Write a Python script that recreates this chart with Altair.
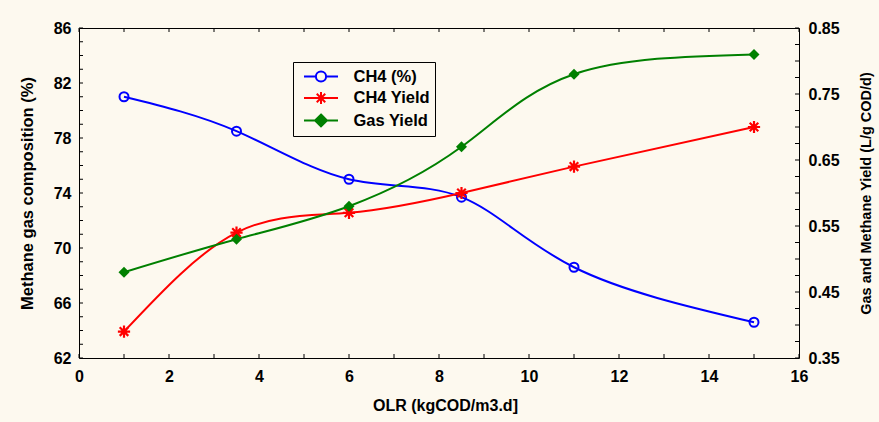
import altair as alt
import pandas as pd

# ---- data ----
olr = [1, 3.5, 6, 8.5, 11, 15]
ch4_pct = [81.0, 78.5, 75.0, 73.7, 68.6, 64.6]
ch4_yield = [0.39, 0.54, 0.57, 0.60, 0.64, 0.70]
gas_yield = [0.48, 0.53, 0.58, 0.67, 0.78, 0.81]

series = ["CH4 (%)", "CH4 Yield", "Gas Yield"]
colors = ["#0000FF", "#FF0000", "#008000"]

x_labels = [0, 2, 4, 6, 8, 10, 12, 14, 16]
x_minor = list(range(0, 17))
left_labels = [62, 66, 70, 74, 78, 82, 86]
left_minor = list(range(62, 87))
right_labels = [0.35, 0.45, 0.55, 0.65, 0.75, 0.85]
right_minor = [0.35, 0.375, 0.4, 0.425, 0.45, 0.475, 0.5, 0.525, 0.55, 0.575, 0.6,
               0.625, 0.65, 0.675, 0.7, 0.725, 0.75, 0.775, 0.8, 0.825, 0.85]

FONT = "Liberation Sans"
CREAM = "#FDF9EF"
W, H = 720, 330
TICK = 4

df_pct = pd.DataFrame({"olr": olr, "v": ch4_pct})
df_cy = pd.DataFrame({"olr": olr, "v": ch4_yield})
df_gy = pd.DataFrame({"olr": olr, "v": gas_yield})

xs = alt.Scale(domain=[0, 16], nice=False, zero=False)
yl = alt.Scale(domain=[62, 86], nice=False, zero=False)
yr = alt.Scale(domain=[0.35, 0.85], nice=False, zero=False)

lab = dict(labelFont=FONT, labelFontSize=16, labelFontWeight="bold", labelColor="black")
tit = dict(titleFont=FONT, titleFontWeight="bold", titleColor="black")

x_main = alt.Axis(orient="bottom", values=x_labels, ticks=False, domain=False, grid=False,
                  labelPadding=10, labelFlush=False, format="d",
                  title="OLR (kgCOD/m3.d]", titleFontSize=16, titleX=366, titleY=47,
                  titleBaseline="middle", titleAlign="center", **lab, **tit)
left_main = alt.Axis(orient="left", values=left_labels, ticks=False, domain=False, grid=False,
                     labelPadding=8, format="d",
                     title="Methane gas composition (%)", titleFontSize=16.5, titleAngle=270,
                     titleX=-52, titleY=165, titleBaseline="middle", titleAlign="center",
                     **lab, **tit)
right_main = alt.Axis(orient="right", values=right_labels, ticks=False, domain=False, grid=False,
                      labelPadding=9, format=".2f",
                      title="Gas and Methane Yield (L/g COD/d)", titleFontSize=14.5,
                      titleAngle=270, titleX=67, titleY=165, titleBaseline="middle",
                      titleAlign="center", **lab, **tit)

ASTER = "M-1,0L1,0M0,-1L0,1M-0.7,-0.7L0.7,0.7M-0.7,0.7L0.7,-0.7"

# inward tick marks (drawn through the scales)
df_xt = pd.DataFrame({"t": x_minor})
df_lt = pd.DataFrame({"t": left_minor})
df_rt = pd.DataFrame({"t": right_minor})
tick_style = dict(color="black", strokeWidth=1, opacity=1)
ticks_bottom = alt.Chart(df_xt).mark_rule(**tick_style).encode(
    x=alt.X("t:Q", scale=xs, axis=x_main), y=alt.value(H), y2=alt.value(H - TICK))
ticks_top = alt.Chart(df_xt).mark_rule(**tick_style).encode(
    x=alt.X("t:Q", scale=xs, axis=None), y=alt.value(0), y2=alt.value(TICK))
ticks_left = alt.Chart(df_lt).mark_rule(**tick_style).encode(
    y=alt.Y("t:Q", scale=yl, axis=left_main), x=alt.value(0), x2=alt.value(TICK))
ticks_right = alt.Chart(df_rt).mark_rule(**tick_style).encode(
    y=alt.Y("t:Q", scale=yr, axis=right_main), x=alt.value(W - TICK), x2=alt.value(W))

line_pct = alt.Chart(df_pct).mark_line(color=colors[0], strokeWidth=2, interpolate="natural").encode(
    x=alt.X("olr:Q", scale=xs, axis=None), y=alt.Y("v:Q", scale=yl, axis=None))
pts_pct = alt.Chart(df_pct).mark_point(shape="circle", size=81, strokeWidth=2, color=colors[0],
                                       filled=False, opacity=1).encode(
    x=alt.X("olr:Q", scale=xs, axis=None), y=alt.Y("v:Q", scale=yl, axis=None))

line_cy = alt.Chart(df_cy).mark_line(color=colors[1], strokeWidth=2, interpolate="natural").encode(
    x=alt.X("olr:Q", scale=xs, axis=None), y=alt.Y("v:Q", scale=yr, axis=None))
pts_cy = alt.Chart(df_cy).mark_point(shape=ASTER, size=150, strokeWidth=2.2, color=colors[1],
                                     filled=False, opacity=1).encode(
    x=alt.X("olr:Q", scale=xs, axis=None), y=alt.Y("v:Q", scale=yr, axis=None))

line_gy = alt.Chart(df_gy).mark_line(color=colors[2], strokeWidth=2, interpolate="natural").encode(
    x=alt.X("olr:Q", scale=xs, axis=None), y=alt.Y("v:Q", scale=yr, axis=None))
pts_gy = alt.Chart(df_gy).mark_point(shape="diamond", size=120, strokeWidth=1, color=colors[2],
                                     filled=True, opacity=1).encode(
    x=alt.X("olr:Q", scale=xs, axis=None), y=alt.Y("v:Q", scale=yr, axis=None))

# legend-only layer (no rows), symbols = line + marker
LEG_SHAPES = [
    "M-2,0L-0.6,0M0.6,0L2,0M0.6,0A0.6,0.6,0,1,1,-0.6,0A0.6,0.6,0,1,1,0.6,0Z",
    "M-2,0L2,0M0,-0.7L0,0.7M-0.5,-0.5L0.5,0.5M-0.5,0.5L0.5,-0.5",
    "M-2,0L2,0M0,-0.7L0.7,0L0,0.7L-0.7,0Z",
]
leg = alt.Legend(orient="none", legendX=214, legendY=34, title=None,
                 fillColor=CREAM, strokeColor="black", padding=5,
                 symbolSize=289, symbolStrokeWidth=2, symbolOffset=13.5,
                 labelOffset=23, labelFont=FONT, labelFontSize=16.5, labelFontWeight="bold",
                 labelColor="black", rowPadding=1.5, labelLimit=300)
legend_layer = alt.Chart(alt.Data(values=[])).mark_point(size=289, strokeWidth=2, opacity=1).encode(
    color=alt.Color("series:N", scale=alt.Scale(domain=series, range=colors), legend=leg),
    fill=alt.Fill("series:N", scale=alt.Scale(domain=series, range=["transparent", colors[1], colors[2]]), legend=leg),
    shape=alt.Shape("series:N", scale=alt.Scale(domain=series, range=LEG_SHAPES), legend=leg),
)

chart = alt.layer(ticks_bottom, ticks_top, ticks_left, ticks_right,
                  line_pct, pts_pct, line_cy, pts_cy, line_gy, pts_gy, legend_layer).resolve_scale(
    y="independent"
).resolve_axis(x="independent", y="independent").properties(
    width=W, height=H,
    autosize=alt.AutoSizeParams(type="none"),
    padding={"left": 79, "top": 28, "right": 80, "bottom": 64},
    background=CREAM,
).configure_view(fill="white", stroke="black", strokeWidth=1)

chart.save("out.html", embed_options={"renderer": "svg", "actions": False})
